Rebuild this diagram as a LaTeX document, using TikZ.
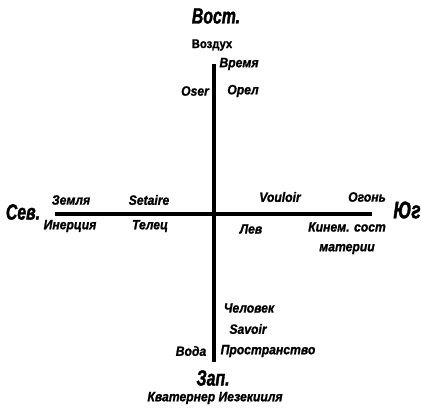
\documentclass[tikz,border=0pt]{standalone}
\usepackage{fontspec}
\setmainfont{Liberation Sans}[FakeStretch=0.9,FakeBold=1.2]
\newfontfamily\bigf{Liberation Sans}[FakeStretch=0.72,FakeBold=1.5]
\begin{document}
\begin{tikzpicture}[x=1pt,y=-1pt,
  lbl/.style={inner sep=0pt,font=\fontsize{13.5}{14}\selectfont\bfseries\itshape},
  big/.style={inner sep=0pt,font=\bigf\fontsize{22}{23}\selectfont\bfseries\itshape},
  axis/.style={line width=4pt}]
\useasboundingbox (0,0) rectangle (422,410);
\coordinate (N) at (55,214);
\coordinate (S) at (372,214);
\coordinate (T) at (213.5,64);
\coordinate (B) at (213.5,362);
\draw[axis] (N) -- (S);
\draw[axis] (T) -- (B);
\node[big] (vost) at (216,16) {Вост.};
\node[lbl,font=\fontsize{12.5}{13}\selectfont\bfseries] (vozd) at (212,45) {Воздух};
\node[lbl] (vrem) at (239,64) {Время};
\node[lbl] (oser) at (195,91) {Oser};
\node[lbl] (orel) at (243,91) {Орел};
\node[big] (sev) at (23,212) {Сев.};
\node[lbl] (zem) at (71,200) {Земля};
\node[lbl] (set) at (149,200) {Setaire};
\node[lbl] (iner) at (70,226) {Инерция};
\node[lbl] (tel) at (150,226) {Телец};
\node[lbl] (voul) at (280,197) {Vouloir};
\node[lbl] (ogon) at (367,197) {Огонь};
\node[big,font=\bigf\fontsize{24}{25}\selectfont\bfseries\itshape] (yug) at (407,210) {Юг};
\node[lbl] (lev) at (251,229) {Лев};
\node[lbl] (kin) at (347,227) {Кинем. сост};
\node[lbl] (mat) at (347,249) {материи};
\node[lbl] (chel) at (249,308) {Человек};
\node[lbl] (sav) at (248,329) {Savoir};
\node[lbl] (prost) at (268,351) {Пространство};
\node[lbl] (voda) at (191,351) {Вода};
\node[big] (zap) at (213,378) {Зап.};
\node[lbl] (kvat) at (215,398) {Кватернер Иезекииля};
\end{tikzpicture}
\end{document}
